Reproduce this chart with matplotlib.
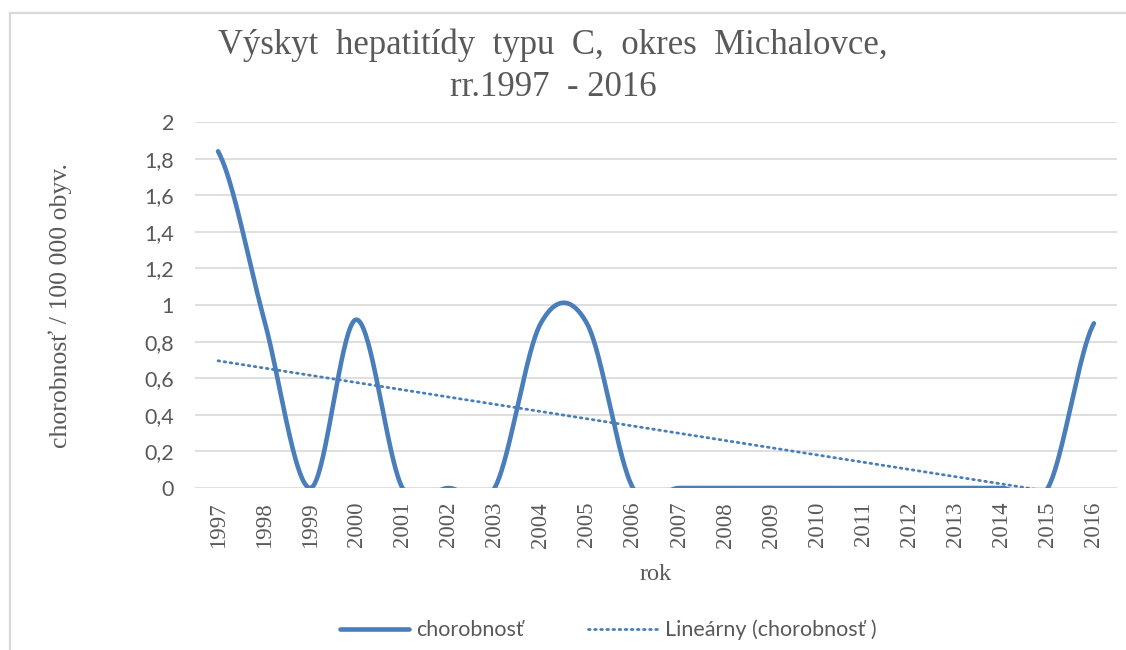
import numpy as np
import matplotlib.pyplot as plt
from matplotlib.lines import Line2D

years = [str(y) for y in range(1997, 2017)]
chorobnost = [1.84, 0.92, 0, 0.92, 0, 0, 0, 0.9, 0.9, 0,
              0, 0, 0, 0, 0, 0, 0, 0, 0, 0.9]
y_ticks = [0, 0.2, 0.4, 0.6, 0.8, 1, 1.2, 1.4, 1.6, 1.8, 2]
y_ticklabels = ['0', '0,2', '0,4', '0,6', '0,8', '1', '1,2', '1,4', '1,6', '1,8', '2']

BLUE = '#4A7EBB'
GRID = '#D9D9D9'
TEXT = '#595959'


def smooth_line(values, n=40):
    # Catmull-Rom like the "smoothed line" option in Excel
    p = np.array(values, dtype=float)
    padded = np.concatenate([[p[0]], p, [p[-1]]])
    xs, ys = [], []
    t = np.linspace(0, 1, n, endpoint=False)
    for i in range(len(p) - 1):
        p0, p1, p2, p3 = padded[i], padded[i + 1], padded[i + 2], padded[i + 3]
        m1 = (p2 - p0) / 2
        m2 = (p3 - p1) / 2
        h00 = 2 * t**3 - 3 * t**2 + 1
        h10 = t**3 - 2 * t**2 + t
        h01 = -2 * t**3 + 3 * t**2
        h11 = t**3 - t**2
        xs.append(i + t)
        ys.append(h00 * p1 + h10 * m1 + h01 * p2 + h11 * m2)
    xs.append([len(p) - 1])
    ys.append([p[-1]])
    return np.concatenate(xs), np.concatenate(ys)


fig = plt.figure(figsize=(11.26, 6.5), dpi=100)
ax = fig.add_axes([195 / 1126, 1 - 488 / 650, 922 / 1126, 366 / 650])

# frame of the chart area (only top and left edges are inside the picture)
top = 1 - 12.5 / 650
left = 9.5 / 1126
fig.add_artist(Line2D([left, 1.01], [top, top], transform=fig.transFigure,
                      color=GRID, linewidth=1.6))
fig.add_artist(Line2D([left, left], [-0.01, top], transform=fig.transFigure,
                      color=GRID, linewidth=1.6))

x = np.arange(len(years))
sx, sy = smooth_line(chorobnost)
ax.plot(sx, sy, color=BLUE, linewidth=3.3, solid_capstyle='round',
        label='chorobnosť', zorder=3)

coef = np.polyfit(x, chorobnost, 1)
ax.plot(x[[0, -1]], np.polyval(coef, x[[0, -1]]), color=BLUE, linewidth=2,
        linestyle=(0, (0.6, 1.6)), dash_capstyle='round',
        label='Lineárny (chorobnosť )', zorder=3)

ax.set_xlim(-0.5, len(years) - 0.5)
ax.set_ylim(0, 2)
ax.set_yticks(y_ticks)
ax.set_yticklabels(y_ticklabels, fontfamily='Lato', fontsize=15.5, color=TEXT)
ax.set_xticks(x)
ax.set_xticklabels(years, rotation=90, fontfamily='Liberation Serif',
                   fontsize=16.5, color=TEXT)
ax.tick_params(axis='x', length=0, pad=10)
ax.tick_params(axis='y', length=0, pad=15)
ax.grid(axis='y', color=GRID, linewidth=1.2)
ax.set_axisbelow(True)
for s in ax.spines.values():
    s.set_visible(False)

ax.set_xlabel('rok', fontfamily='Liberation Serif', fontsize=17.5, color=TEXT,
              labelpad=12)
ax.set_ylabel('chorobnosť / 100 000 obyv.', fontfamily='Liberation Serif',
              fontsize=18.5, color=TEXT, labelpad=52)

fig.text(553 / 1126, 1 - 45 / 650, 'Výskyt  hepatitídy  typu  C,  okres  Michalovce,',
         ha='center', va='center', fontfamily='Liberation Serif', fontsize=25,
         color=TEXT)
fig.text(553 / 1126, 1 - 88 / 650, 'rr.1997  - 2016', ha='center', va='center',
         fontfamily='Liberation Serif', fontsize=25, color=TEXT)

leg = fig.legend(loc='center', bbox_to_anchor=(608 / 1126, 1 - 630 / 650),
                 ncol=2, frameon=False, handlelength=3.2, handletextpad=0.35,
                 columnspacing=3.0, prop={'family': 'Lato', 'size': 15.5})
for t in leg.get_texts():
    t.set_color(TEXT)

fig.savefig('out.png', dpi=100)
